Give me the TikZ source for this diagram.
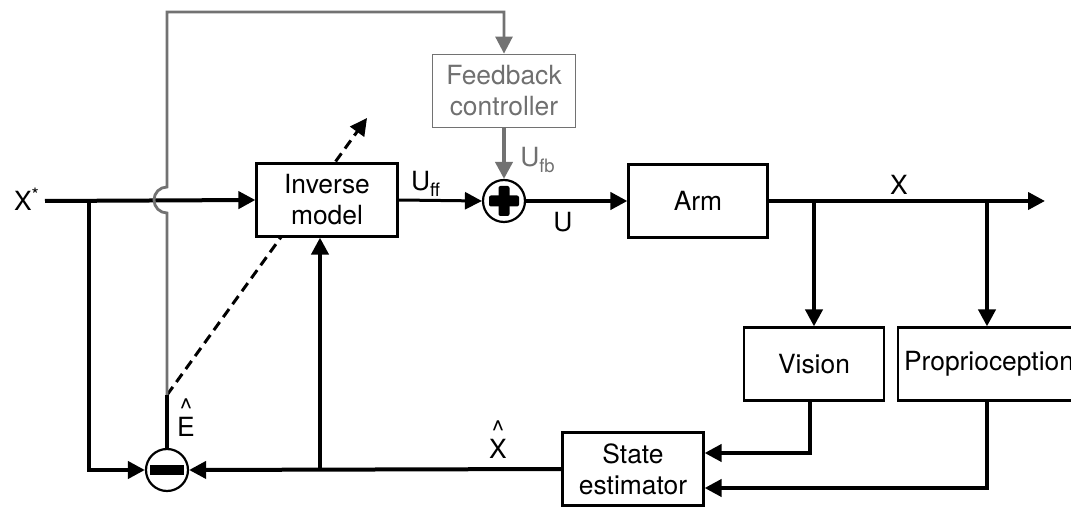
\documentclass[tikz,border=0pt]{standalone}
\usepackage{fontspec}
\setmainfont{TeX Gyre Heros}
\usepackage{tikz}
\usetikzlibrary{calc,arrows.meta}
\tikzset{every picture/.append style={font=\fontsize{13.2}{15.5}\selectfont}}
\definecolor{figgray}{HTML}{727272}
\definecolor{figgraytext}{HTML}{707070}
\tikzset{
  block/.style={draw,fill=white,line width=1.1pt,minimum width=70.5pt,minimum height=36.5pt,inner sep=0pt,align=center},
  sumnode/.style={draw,fill=white,circle,line width=1.1pt,minimum size=21pt,inner sep=0pt},
  hatlabel/.style={align=center,inner sep=0pt},
  wire/.style={line width=2pt},
  sig/.style={line width=2pt,-{Triangle[length=8.5pt,width=8.5pt]}},
  learn/.style={line width=1.5pt,dash pattern=on 5pt off 3pt,-{Triangle[length=8.5pt,width=8.5pt]}},
  fbline/.style={figgray,line width=1.4pt,-{Triangle[length=8.5pt,width=8.5pt]}},
  fbsig/.style={figgray,line width=2pt,-{Triangle[length=8.5pt,width=8.5pt]}}
}

\begin{document}
\begin{tikzpicture}[x=0.5pt,y=-0.5pt]
    \useasboundingbox (0,0) rectangle (1071,507);
    \coordinate (xin) at (45,201);
    \coordinate (j1) at (89,201);
    \coordinate (j2) at (814,201);
    \coordinate (j3) at (987,201);
    \coordinate (j4) at (320,470);
    \coordinate (xout) at (1045,201);
    \coordinate (e) at (167,395);
    \coordinate (lrn) at (367,118);
    \draw[learn] (e) -- (lrn);
    \node[block] (inv) at (327,200) {Inverse\\model};
    \node[block,draw=figgray,text=figgraytext,line width=0.9pt,minimum width=71.5pt] (fb) at (504,91) {Feedback\\controller};
    \node[block,minimum width=69.5pt] (arm) at (698,201) {Arm};
    \node[block,minimum width=70pt] (vis) at (814,364) {Vision};
    \node[block,minimum width=91pt] (prop) at (989,364) {Proprioception};
    \node[block] (se) at (633,469) {State\\estimator};
    \node[sumnode] (plus) at (504,201) {};
    \node[sumnode] (minus) at (167,470) {};
    \fill[rounded corners=1pt] ($(plus.center)+(-15,-5.5)$) rectangle ($(plus.center)+(15,5.5)$);
    \fill[rounded corners=1pt] ($(plus.center)+(-5.5,-15)$) rectangle ($(plus.center)+(5.5,15)$);
    \fill ($(minus.center)+(-17,-5)$) rectangle ($(minus.center)+(17,5)$);
    \node (xs) at (27,199) {X\textsuperscript{*}};
    \node (uff) at (426,184) {U\textsubscript{ff}};
    \node[text=figgraytext] (ufb) at (538,160) {U\textsubscript{fb}};
    \node (u) at (563,222) {U};
    \node (x) at (899,185) {X};
    \node[hatlabel] (xhat) at (498,440) {\^{}\\[-6pt]X};
    \node[hatlabel] (ehat) at (186,418) {\^{}\\[-6pt]E};
    \draw[sig] (xin) -- (inv.west);
    \draw[sig] (j1) |- (minus.west);
    \draw[sig,line width=1.5pt] (inv.east) -- (plus.west);
    \draw[sig] (plus.east) -- (arm.west);
    \draw[sig] (arm.east) -- (xout);
    \draw[sig] (j2) -- (vis.north);
    \draw[sig] (j3) -- (j3 |- prop.north);
    \draw[sig] ([xshift=-2pt]vis.south) |- ($(se.east)+(0,-16)$);
    \draw[sig] ([xshift=-1pt]prop.south) |- ($(se.east)+(0,19)$);
    \draw[sig] (se.west) -- (minus.east);
    \draw[sig] (j4) -- (j4 |- inv.south);
    \draw[wire] (minus.north) -- (e);
    \draw[fbline] (e) -- ++(0,-182) arc[start angle=270,end angle=90,radius=6.5pt] -- ++(0,-175) -| (fb.north);
    \draw[fbsig] (fb.south) -- (plus.north);
\end{tikzpicture}
\end{document}
